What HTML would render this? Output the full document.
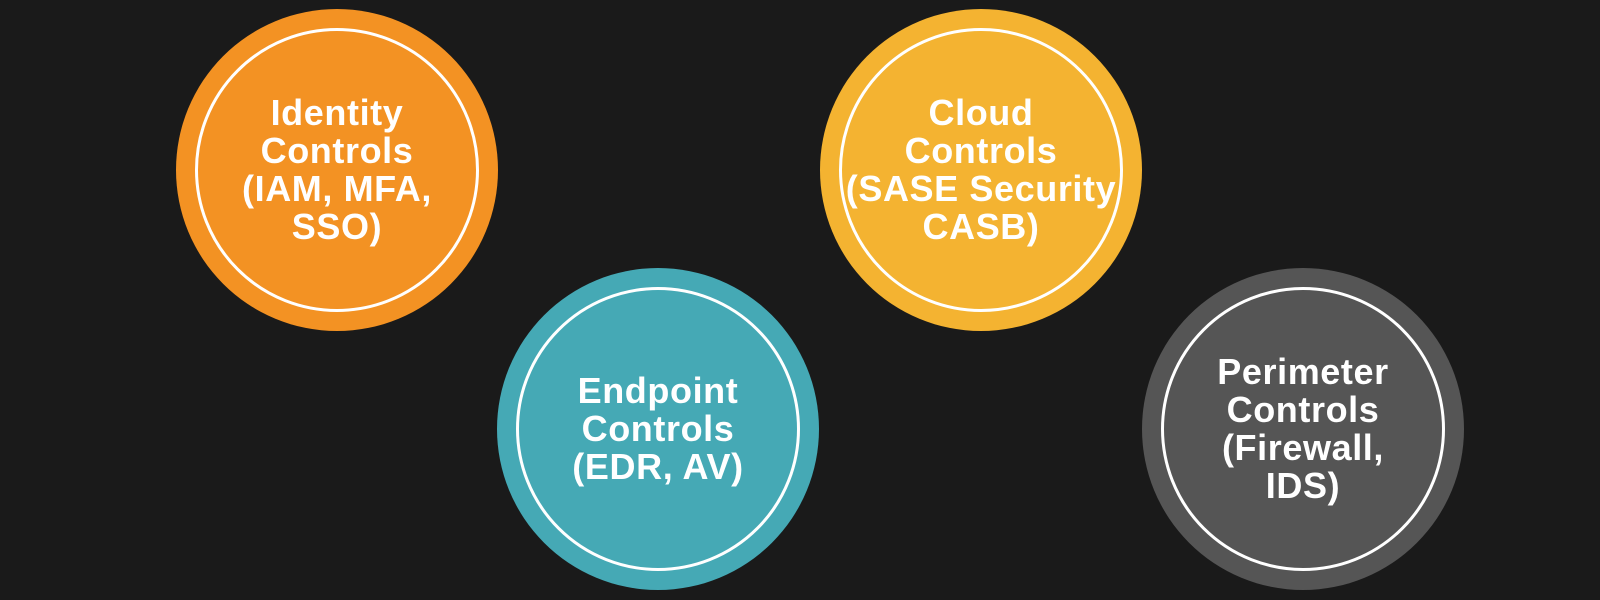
<!DOCTYPE html>
<html><head><meta charset="utf-8"><style>
html,body{margin:0;padding:0;background:#1a1a1a;width:1600px;height:600px;overflow:hidden}
.c{position:absolute;width:322px;height:322px;border-radius:50%;}
.i{position:absolute;left:19px;top:19px;width:284px;height:284px;border:3px solid #fff;border-radius:50%;box-sizing:border-box;display:flex;align-items:center;justify-content:center;text-align:center;color:#fff;font-family:"Liberation Sans",sans-serif;font-weight:bold;font-size:36px;letter-spacing:0.6px;line-height:38px;white-space:nowrap}
</style></head><body>
<div class="c" style="left:176px;top:9px;background:#F39223"><div class="i"><div>Identity<br>Controls<br>(IAM, MFA,<br>SSO)</div></div></div>
<div class="c" style="left:820px;top:9px;background:#F4B331"><div class="i"><div>Cloud<br>Controls<br>(SASE Security<br>CASB)</div></div></div>
<div class="c" style="left:497px;top:268px;background:#45A9B5"><div class="i"><div>Endpoint<br>Controls<br>(EDR, AV)</div></div></div>
<div class="c" style="left:1142px;top:268px;background:#555555"><div class="i"><div>Perimeter<br>Controls<br>(Firewall,<br>IDS)</div></div></div>
</body></html>
